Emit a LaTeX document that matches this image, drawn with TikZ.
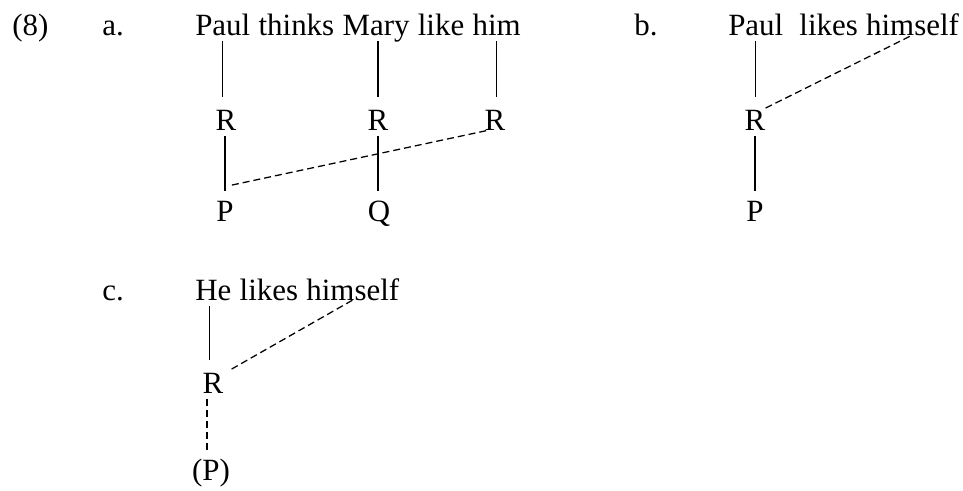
\documentclass[tikz,border=0pt]{standalone}
\usepackage{fontspec}
\setmainfont{Liberation Serif}
\usetikzlibrary{positioning,calc}

\begin{document}
\begin{tikzpicture}[
  x=0.25mm,y=-0.25mm,
  font=\fontsize{22}{26}\selectfont,
  word/.style={inner sep=0pt,text height=15.4pt,text depth=4.4pt,anchor=base west},
  sym/.style={inner sep=0pt,text height=15.4pt,text depth=4.4pt,anchor=base},
  stem/.style={line width=0.9pt},
  bind/.style={line width=0.9pt,dash pattern=on 1.75mm off 1mm},
  toR/.style={shorten >=2.8mm},
  toP/.style={shorten >=2mm}
]
\useasboundingbox (0,0) rectangle (963,490);

% Example labels
\node[word] (num) at (12,35) {(8)};
\node[word] (la) at (102,35) {a.};
\node[word] (lb) at (634,35) {b.};
\node[word] (lc) at (102,300) {c.};

% (a) Paul thinks Mary like him
\node[word] (paula) at (195,35) {Paul};
\node[word,base right=1.94mm of paula] (thinks) {thinks};
\node[word,base right=1.94mm of thinks] (mary) {Mary};
\node[word,base right=1.94mm of mary] (like) {like};
\node[word,base right=1.94mm of like] (him) {him};

\node[sym] (ra1) at (226,130) {R};
\node[sym] (ra2) at (378,130) {R};
\node[sym] (ra3) at (495,130) {R};
\node[sym] (pa) at (225,221) {P};
\node[sym] (qa) at (379,221) {Q};

\draw[stem,toR] (paula.south) -- (paula.south |- ra1.north);
\draw[stem,toR] (ra2.north |- mary.south) -- (ra2.north);
\draw[stem,toR] (him.south) -- (him.south |- ra3.north);
\draw[stem,toP] (pa.north |- ra1.south) -- (pa.north);
\draw[stem,toP] (ra2.south) -- (ra2.south |- qa.north);
\draw[bind] ($(pa.north east)+(-2,-14)$) -- ($(ra3.base west)+(5,0)$);

% (b) Paul likes himself
\node[word] (paulb) at (728,35) {Paul};
\node[word,base right=3.9mm of paulb] (likesb) {likes};
\node[word,base right=1.94mm of likesb] (himb) {himself};

\node[sym] (rb) at (755,130) {R};
\node[sym] (pb) at (755,221) {P};

\draw[stem,toR] (paulb.south) -- (paulb.south |- rb.north);
\draw[stem,toP] (rb.south) -- (pb.north);
\draw[bind] (rb.north east) -- (himb.base);

% (c) He likes himself
\node[word] (he) at (195,300) {He};
\node[word,base right=1.94mm of he] (likesc) {likes};
\node[word,base right=1.94mm of likesc] (himc) {himself};

\node[sym] (rc) at (213,393) {R};
\node[sym] (pc) at (211,480) {(P)};

\draw[stem,toR] ($(he.south)+(-4,0)$) -- ($(he.south |- rc.north)+(-4,0)$);
\draw[bind,shorten >=1.5mm] ($(pc.north |- rc.south)+(-4,0)$) -- ($(pc.north)+(-4,0)$);
\draw[bind] ($(rc.north east)+(8,-2)$) -- (himc.base);

\end{tikzpicture}
\end{document}
